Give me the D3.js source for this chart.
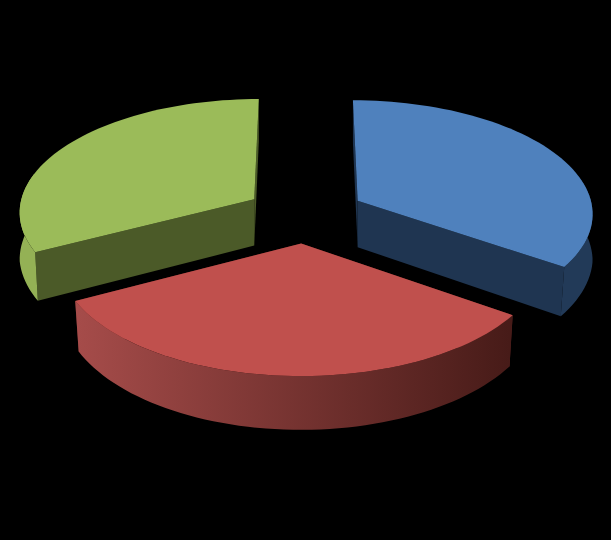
<!DOCTYPE html>
<html>
<head>
<meta charset="utf-8">
<script src="https://cdnjs.cloudflare.com/ajax/libs/d3/7.8.5/d3.min.js"></script>
<style>
  html, body { margin: 0; padding: 0; background: #000; }
  svg { display: block; }
</style>
</head>
<body>
<div id="chart"></div>
<script>
// DATA (no labels in the picture, three almost equal slices)
const categories = ["A", "B", "C"];
const values = [34.6, 32.8, 32.6];
const topColors = ["#4f81bd", "#c0504d", "#9bbb59"];
const endColors = ["#1f3551", "#5a2220", "#4b5a28"];
const wallLeft = ["#1f3551", "#a64c4a", "#94b155"];
const wallRight = ["#223a58", "#471b18", "#7f9a48"];

// SETUP
const width = 611, height = 540;
const svg = d3.select("#chart").append("svg")
    .attr("width", width)
    .attr("height", height);

svg.append("rect")
    .attr("width", width)
    .attr("height", height)
    .attr("fill", "#000");

// projection of the tilted pie, k is the amount of perspective
// the bottom edge is pulled towards the middle for points near the viewer
const view = { cx: 305, cy: 214, rx: 236, ry: 113, k: 0.1, depth: 47, explode: 0.255 };

function project(X, Z, low) {
    const w = 1 - view.k * Z;
    const shrink = low ? 1 - Math.min(0.015, 0.03 * Math.max(0, Z)) : 1;
    return [
        view.cx + view.rx * X / w * shrink,
        view.cy + view.ry * Z / w + (low ? view.depth / w : 0)
    ];
}

const pie = d3.pie().sort(null).value(d => d)
    .startAngle(0).endAngle(2 * Math.PI);
const slices = pie(values);
const line = d3.line();

// gradients for the curved walls
const defs = svg.append("defs");
slices.forEach((s, i) => {
    const g = defs.append("linearGradient")
        .attr("id", "wall" + i)
        .attr("gradientUnits", "userSpaceOnUse")
        .attr("x1", 75).attr("x2", 510)
        .attr("y1", 0).attr("y2", 0);
    g.append("stop").attr("offset", 0).attr("stop-color", wallLeft[i]);
    g.append("stop").attr("offset", 1).attr("stop-color", wallRight[i]);
});

// draw back slices first so the red one stays in front
[0, 2, 1].forEach(i => {
    const s = slices[i];
    const mid = (s.startAngle + s.endAngle) / 2;
    const ox = view.explode * Math.sin(mid);
    const oz = -view.explode * Math.cos(mid);

    const angles = d3.range(0, 61).map(j => s.startAngle + (s.endAngle - s.startAngle) * j / 60);
    const edge = (a, low) => project(ox + Math.sin(a), oz - Math.cos(a), low);
    const apex = low => project(ox, oz, low);
    // the back of the curved wall is never seen, leave it out
    const front = angles.filter(a => Math.cos(a) < 0.25);

    const g = svg.append("g").attr("class", "slice " + categories[i]);

    // the two flat walls go first, the curved wall covers the hidden ones
    [s.startAngle, s.endAngle].forEach(a => {
        g.append("path")
            .attr("d", line([apex(false), edge(a, false), edge(a, true), apex(true)]) + "Z")
            .attr("fill", endColors[i]);
    });

    // outer curved wall
    g.append("path")
        .attr("d", line(front.map(a => edge(a, false)).concat(front.map(a => edge(a, true)).reverse())) + "Z")
        .attr("fill", `url(#wall${i})`);

    // top face
    g.append("path")
        .attr("d", line([apex(false)].concat(angles.map(a => edge(a, false)))) + "Z")
        .attr("fill", topColors[i]);
});
</script>
</body>
</html>
